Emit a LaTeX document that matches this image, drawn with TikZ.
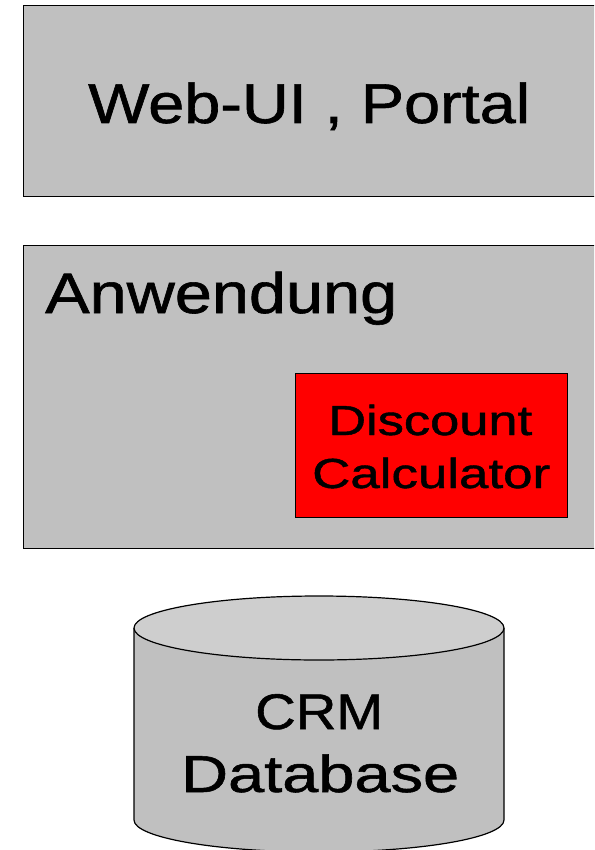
\documentclass[tikz,border=0pt]{standalone}
\usepackage{fontspec}
\setmainfont{Liberation Sans}[FakeBold=1]
\usepackage{graphicx}
\newcommand{\fitx}[2]{\resizebox{#1}{\height}{#2}}
\definecolor{boxgray}{HTML}{C0C0C0}
\definecolor{topgray}{HTML}{CECECE}
\definecolor{calcred}{HTML}{FF0000}
\begin{document}
\begin{tikzpicture}[x=1pt,y=-1pt,
  box/.style={draw=black, line width=1.2pt, fill=boxgray, anchor=north west, inner sep=0pt},
  lbl/.style={inner sep=0pt, anchor=base west, text=black}]
\useasboundingbox (0,0) rectangle (594,850);
\clip (0,0) rectangle (594,850);
% top box
\node[box, minimum width=590pt, minimum height=191pt] (web) at (23,5) {};
\node[lbl] (webtxt) at (88,123) {\fontsize{56}{60}\selectfont\fitx{442pt}{Web-UI , Portal}};
% application box
\node[box, minimum width=590pt, minimum height=303pt] (app) at (23,245) {};
\node[lbl] (apptxt) at (45,313) {\fontsize{57}{60}\selectfont\fitx{352pt}{Anwendung}};
% discount calculator
\node[box, fill=calcred, line width=1pt, minimum width=272pt, minimum height=144pt] (calc) at (295,373) {};
\node[lbl] (calc1) at (328,435) {\fontsize{42}{50}\selectfont\fitx{204pt}{Discount}};
\node[lbl] (calc2) at (312,488) {\fontsize{42}{50}\selectfont\fitx{238pt}{Calculator}};
% database cylinder
\coordinate (dbtop) at (319,628);
\coordinate (dbl) at (134,628);
\coordinate (dbr) at (504,628);
\coordinate (dbbl) at (134,820);
\draw[line width=1.2pt, fill=boxgray] (dbl) -- (dbbl) arc[start angle=180, end angle=360, x radius=185pt, y radius=32pt] -- (dbr);
\draw[line width=1.2pt, fill=topgray] (dbtop) ellipse [x radius=185pt, y radius=32pt];
\node[lbl] (db1) at (255,729) {\fontsize{50}{54}\selectfont\fitx{128pt}{CRM}};
\node[lbl] (db2) at (181,792) {\fontsize{52}{56}\selectfont\fitx{278pt}{Database}};
\end{tikzpicture}
\end{document}
